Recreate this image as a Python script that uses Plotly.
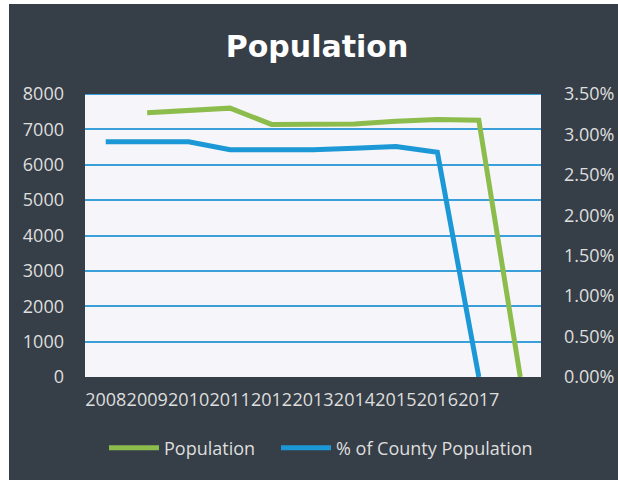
import plotly.graph_objects as go

# Yearly figures (the last year is only used for the drop to zero)
years = [2008, 2009, 2010, 2011, 2012, 2013, 2014, 2015, 2016, 2017, 2018]
population = [None, 7470, 7535, 7600, 7140, 7140, 7150, 7230, 7280, 7260, 0]
pct_of_county = [0.0291, 0.0291, 0.0291, 0.0281, 0.0281, 0.0281, 0.0283, 0.0285, 0.0278, 0.0, None]

tick_years = [2008, 2009, 2010, 2011, 2012, 2013, 2014, 2015, 2016, 2017]
tick_labels = [str(y) for y in tick_years]

W, H = 618, 480
ML, MR, MT, MB = 85, 77, 94, 103
PW, PH = W - ML - MR, H - MT - MB

GREEN = "#8cbd4c"
BLUE = "#1b98d5"
GRID = "#3b9fd9"
TEXT = "#dedede"
DARK = "#363e47"
FONT = "Open Sans"


def px_x(p):
    return (p - ML) / PW


def px_y(p):
    return (H - MB - p) / PH


fig = go.Figure()
fig.add_trace(go.Scatter(
    x=years, y=population, name="Population", mode="lines",
    line=dict(color=GREEN, width=5), yaxis="y", legend="legend",
))
fig.add_trace(go.Scatter(
    x=years, y=pct_of_county, name="% of County Population", mode="lines",
    line=dict(color=BLUE, width=5), yaxis="y2", legend="legend2",
))

# thin white edge along the top and left of the dark card
fig.add_shape(type="rect", xref="paper", yref="paper",
              x0=px_x(-5), x1=px_x(9), y0=px_y(H + 5), y1=px_y(-5),
              fillcolor="white", line=dict(width=0))
fig.add_shape(type="rect", xref="paper", yref="paper",
              x0=px_x(-5), x1=px_x(W + 5), y0=px_y(4), y1=px_y(-5),
              fillcolor="white", line=dict(width=0))
# top border of the plot area, drawn like the gridlines
fig.add_shape(type="line", xref="paper", yref="y", x0=0, x1=1, y0=8000, y1=8000,
              line=dict(color=GRID, width=2), layer="below")

legend_style = dict(orientation="h", yanchor="middle", y=px_y(448),
                    xanchor="left", itemwidth=50,
                    font=dict(family=FONT, size=18, color=TEXT),
                    bgcolor="rgba(0,0,0,0)")

fig.update_layout(
    width=W, height=H,
    margin=dict(l=ML, r=MR, t=MT, b=MB, autoexpand=False),
    paper_bgcolor=DARK,
    plot_bgcolor="#f6f5f9",
    title=dict(text="<b>Population</b>", x=0.513, xanchor="center",
               y=1 - 46 / H, yanchor="middle",
               font=dict(family="DejaVu Sans", size=30, color="white")),
    xaxis=dict(range=[2007.5, 2018.5], tickmode="array",
               tickvals=tick_years, ticktext=tick_labels, tickangle=0,
               showgrid=False, zeroline=False, showline=False, ticks="",
               ticklabelstandoff=10, automargin=False,
               tickfont=dict(family=FONT, size=18, color=TEXT)),
    yaxis=dict(range=[0, 8000], dtick=1000, showgrid=True,
               gridcolor=GRID, gridwidth=2, zeroline=False, ticks="",
               ticklabelstandoff=20, automargin=False,
               tickfont=dict(family=FONT, size=18, color=TEXT)),
    yaxis2=dict(range=[0, 0.035], dtick=0.005, tickformat=".2%",
                overlaying="y", side="right", showgrid=False,
                zeroline=False, ticks="", ticklabelstandoff=22,
                automargin=False,
                tickfont=dict(family=FONT, size=18, color=TEXT)),
    showlegend=True,
    legend=dict(legend_style, x=px_x(110 - 6)),
    legend2=dict(legend_style, x=px_x(282 - 6)),
)

fig.write_html("out.html")
